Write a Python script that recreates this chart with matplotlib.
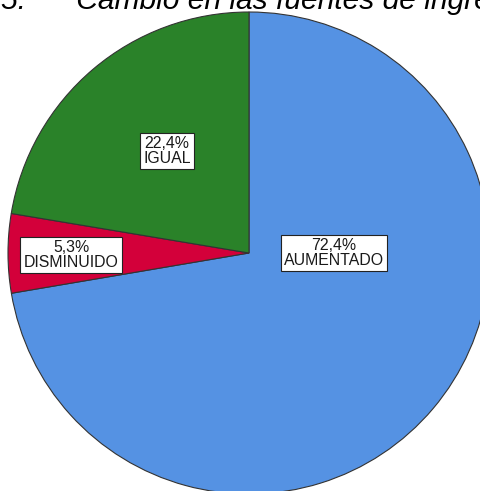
import matplotlib
matplotlib.use("Agg")
import matplotlib.pyplot as plt

categories = ["AUMENTADO", "DISMINUIDO", "IGUAL"]
percents = [72.4, 5.3, 22.4]
pct_labels = ["72,4%", "5,3%", "22,4%"]
colors = ["#5592E3", "#D3003A", "#2A8229"]
title = "5.      Cambio en las fuentes de ingresos"

W, H = 480, 491
fig = plt.figure(figsize=(W / 100, H / 100), dpi=100)
ax = fig.add_axes([0, 0, 1, 1])

cx, cy, r = 249, H - 253, 241
ax.pie(percents, colors=colors, startangle=90, counterclock=False,
       center=(cx, cy), radius=r, frame=True,
       wedgeprops=dict(edgecolor="#333333", linewidth=0.8))
ax.set_xlim(0, W)
ax.set_ylim(0, H)
ax.set_aspect("equal")
ax.axis("off")

label_pos = [(334, 253), (71, 255), (167, 151)]
for (x, y), p, c in zip(label_pos, pct_labels, categories):
    ax.text(x, H - y, f"{p}\n{c}", ha="center", va="center",
            fontsize=11.4, family="Liberation Sans", linespacing=1.0,
            color="#1a1a1a",
            bbox=dict(boxstyle="square,pad=0.2", facecolor="white",
                      edgecolor="#222222", linewidth=0.8))

ax.text(1, H - 9, title, ha="left", va="baseline", fontsize=21.6,
        style="italic", family="Liberation Sans", color="black")

fig.savefig("out.png", dpi=100)
